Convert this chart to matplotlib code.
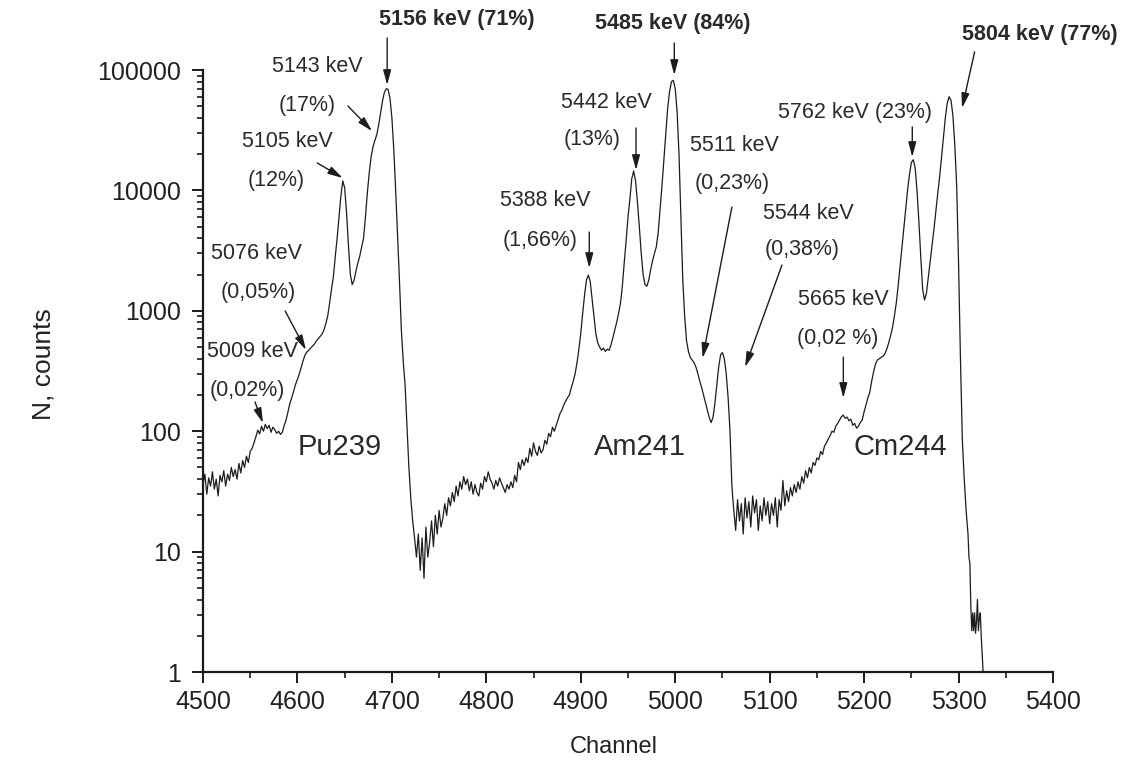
import numpy as np
import matplotlib
matplotlib.use("Agg")
import matplotlib.pyplot as plt
from matplotlib.ticker import MultipleLocator, LogLocator, FixedLocator, FuncFormatter, NullFormatter

plt.rcParams['font.family'] = ['Liberation Sans', 'DejaVu Sans']

# ---- alpha spectrum: Pu239 region (channels 4500..4724, step 2) ----
pu_channel = np.arange(4500, 4726, 2)
pu_counts = [
    36, 44, 30, 41, 35, 46, 33, 40, 29, 43, 38, 47, 35, 44, 39, 50, 42, 48, 40, 54, 45, 57, 50, 62, 55,
    68, 72, 80, 90, 102, 95, 110, 100, 114, 105, 112, 98, 108, 103, 96, 100, 94, 98, 112, 124, 145, 170, 190, 215, 245,
    270, 300, 340, 385, 430, 455, 470, 490, 510, 530, 560, 585, 610, 640, 690, 780, 900, 1150, 1500, 1900, 2800, 4000, 6000, 9000, 12000,
    10500, 6500, 3500, 2000, 1650, 1800, 2150, 2500, 2850, 3400, 4000, 6000, 9500, 14000, 19000, 23000, 26000, 29000, 35000, 44000, 55000, 65000, 70000, 69000, 58000,
    40000, 22000, 10000, 4200, 1800, 700, 380, 240, 110, 50, 28, 18, 13,
]

# ---- Am241 region (channels 4726..5058, step 2) ----
am_channel = np.arange(4726, 5060, 2)
am_counts = [
    9, 14, 7, 13, 6, 16, 9, 12, 18, 11, 20, 14, 22, 16, 19, 25, 20, 28, 24, 31, 26, 35, 29, 38, 33,
    42, 36, 40, 32, 38, 30, 36, 31, 29, 37, 33, 42, 38, 46, 40, 37, 33, 39, 35, 41, 37, 34, 31, 36, 33,
    38, 34, 43, 38, 55, 48, 58, 52, 60, 55, 72, 62, 80, 68, 63, 75, 66, 70, 84, 78, 96, 90, 108, 100, 112,
    125, 140, 150, 165, 178, 190, 200, 230, 260, 300, 370, 480, 650, 950, 1350, 1800, 1980, 1750, 1250, 900, 640, 540, 500, 470, 490,
    460, 480, 470, 520, 600, 690, 800, 950, 1150, 1600, 2500, 3800, 6000, 8500, 12500, 14500, 12000, 8000, 5000, 3000, 2000, 1650, 1600, 1800, 2200,
    2600, 3000, 3400, 4500, 7000, 11000, 18000, 30000, 48000, 66000, 80000, 82000, 70000, 45000, 20000, 6000, 1800, 900, 560, 460, 410, 390, 370, 340, 300,
    260, 230, 200, 175, 150, 130, 118, 130, 170, 240, 340, 430, 450, 400, 300, 190, 100,
]

# ---- Cm244 region (channels 5060..5310, step 2) ----
cm_channel = np.arange(5060, 5312, 2)
cm_counts = [
    35, 22, 15, 27, 18, 25, 14, 28, 19, 26, 16, 29, 21, 27, 15, 24, 18, 28, 20, 26, 17, 25, 20, 28, 16,
    27, 22, 39, 24, 32, 26, 34, 29, 36, 31, 38, 33, 42, 37, 47, 41, 50, 45, 55, 52, 60, 58, 68, 64, 75,
    80, 86, 92, 100, 98, 110, 116, 124, 132, 136, 128, 131, 122, 126, 112, 116, 106, 110, 118, 124, 145, 165, 190, 210, 260,
    310, 360, 390, 400, 410, 420, 440, 480, 540, 620, 720, 900, 1150, 1600, 2300, 3300, 4800, 7000, 10000, 13500, 17000, 18000, 15500, 10000, 5500,
    2800, 1500, 1230, 1400, 1900, 2600, 3500, 4800, 6800, 9500, 13000, 19000, 28000, 40000, 53000, 60000, 56000, 42000, 24000, 11000, 2500, 400, 85, 40, 22, 14,
]

# high-energy tail of Cm244 (single-channel resolution)
tail_channel = [5311, 5312, 5313, 5314, 5315, 5316, 5317, 5318, 5319, 5320, 5321, 5322, 5323, 5324, 5325, 5326]
tail_counts = [9, 8, 3.5, 2.2, 3.1, 2.2, 3.1, 2.1, 2.6, 4.0, 2.2, 2.8, 3.1, 2.0, 1.4, 1.0]

channel = np.concatenate([pu_channel, am_channel, cm_channel, tail_channel])
counts = np.concatenate([pu_counts, am_counts, cm_counts, tail_counts]).astype(float)

x_ticks = [4500, 4600, 4700, 4800, 4900, 5000, 5100, 5200, 5300, 5400]
y_ticks = [1, 10, 100, 1000, 10000, 100000]

# ---- figure ----
W, H = 1135, 764
fig = plt.figure(figsize=(W / 100, H / 100), dpi=100)
ax = fig.add_axes([203 / W, 1 - 672 / H, 850 / W, 602 / H])

ax.plot(channel, counts, color='#1c1c1c', lw=0.9)

ax.set_yscale('log')
ax.set_xlim(4500, 5400)
ax.set_ylim(1, 1e5)

for side in ('top', 'right'):
    ax.spines[side].set_visible(False)
for side in ('left', 'bottom'):
    ax.spines[side].set_linewidth(1.6)
    ax.spines[side].set_color('#1a1a1a')

ax.xaxis.set_major_locator(FixedLocator(x_ticks))
ax.xaxis.set_minor_locator(MultipleLocator(50))
ax.yaxis.set_major_locator(FixedLocator(y_ticks))
ax.yaxis.set_minor_locator(LogLocator(base=10, subs=np.arange(2, 10), numticks=20))
ax.yaxis.set_major_formatter(FuncFormatter(lambda v, p: f"{v:.0f}"))
ax.yaxis.set_minor_formatter(NullFormatter())

ax.tick_params(which='major', direction='out', length=8, width=1.4, color='#1a1a1a',
               labelsize=18, labelcolor='#222222')
ax.tick_params(which='minor', direction='out', length=4, width=1.2, color='#1a1a1a')
ax.tick_params(axis='x', which='major', pad=5)
ax.tick_params(axis='y', which='major', pad=8)

ax.set_xlabel('Channel', fontsize=17, color='#222222')
ax.xaxis.set_label_coords((614 - 203) / 850, (672 - 736) / 602)
ax.set_ylabel('N, counts', fontsize=19, color='#222222')
ax.yaxis.set_label_coords((56 - 203) / 850, (672 - 364) / 602)

# ---- peak labels ----
ink = '#1c1c1c'
label_kw = dict(ha='center', va='center', color='#2a2a2a', clip_on=False)

def lbl(x, lg, s, size=15.5, bold=False):
    ax.text(x, 10 ** lg, s, fontsize=size, fontweight='bold' if bold else 'normal', **label_kw)

def arrow(x0, lg0, x1, lg1):
    ax.annotate('', xy=(x1, 10 ** lg1), xytext=(x0, 10 ** lg0), annotation_clip=False,
                arrowprops=dict(arrowstyle='-|>,head_length=0.9,head_width=0.24',
                                color=ink, lw=1.0, shrinkA=0, shrinkB=0))

# Pu239
lbl(4769, 5.420, '5156 keV (71%)', bold=True)
arrow(4695, 5.266, 4695, 4.875)
lbl(4621, 5.025, '5143 keV')
lbl(4610, 4.709, '(17%)')
arrow(4653.5, 4.701, 4679, 4.493)
lbl(4589, 4.402, '5105 keV')
lbl(4578, 4.086, '(12%)')
arrow(4621, 4.228, 4648, 4.103)
lbl(4557, 3.480, '5076 keV')
lbl(4558, 3.156, '(0,05%)')
arrow(4587, 2.998, 4609, 2.674)
lbl(4552, 2.658, '5009 keV')
lbl(4547, 2.342, '(0,02%)')
arrow(4555, 2.243, 4563.5, 2.068)
lbl(4645, 1.869, 'Pu239', size=21)

# Am241
lbl(4997, 5.390, '5485 keV (84%)', bold=True)
arrow(4999, 5.224, 4999, 4.958)
lbl(4927, 4.734, '5442 keV')
lbl(4912, 4.419, '(13%)')
arrow(4958.5, 4.518, 4958.5, 4.169)
lbl(4862, 3.920, '5388 keV')
lbl(4857, 3.588, '(1,66%)')
arrow(4909, 3.654, 4909, 3.355)
lbl(5063, 4.369, '5511 keV')
lbl(5060, 4.061, '(0,23%)')
arrow(5060, 3.862, 5029, 2.608)
lbl(5141, 3.812, '5544 keV')
lbl(5134, 3.505, '(0,38%)')
arrow(5113, 3.380, 5074, 2.533)
lbl(4963, 1.869, 'Am241', size=21)

# Cm244
lbl(5178, 3.090, '5665 keV')
lbl(5172, 2.774, '(0,02 %)')
arrow(5178, 2.616, 5178, 2.276)
lbl(5190, 4.651, '5762 keV (23%)')
arrow(5251, 4.527, 5251, 4.277)
lbl(5386, 5.291, '5804 keV (77%)', bold=True)
arrow(5317, 5.150, 5303.7, 4.684)
lbl(5238, 1.869, 'Cm244', size=21)

fig.savefig('out.png', dpi=100)
